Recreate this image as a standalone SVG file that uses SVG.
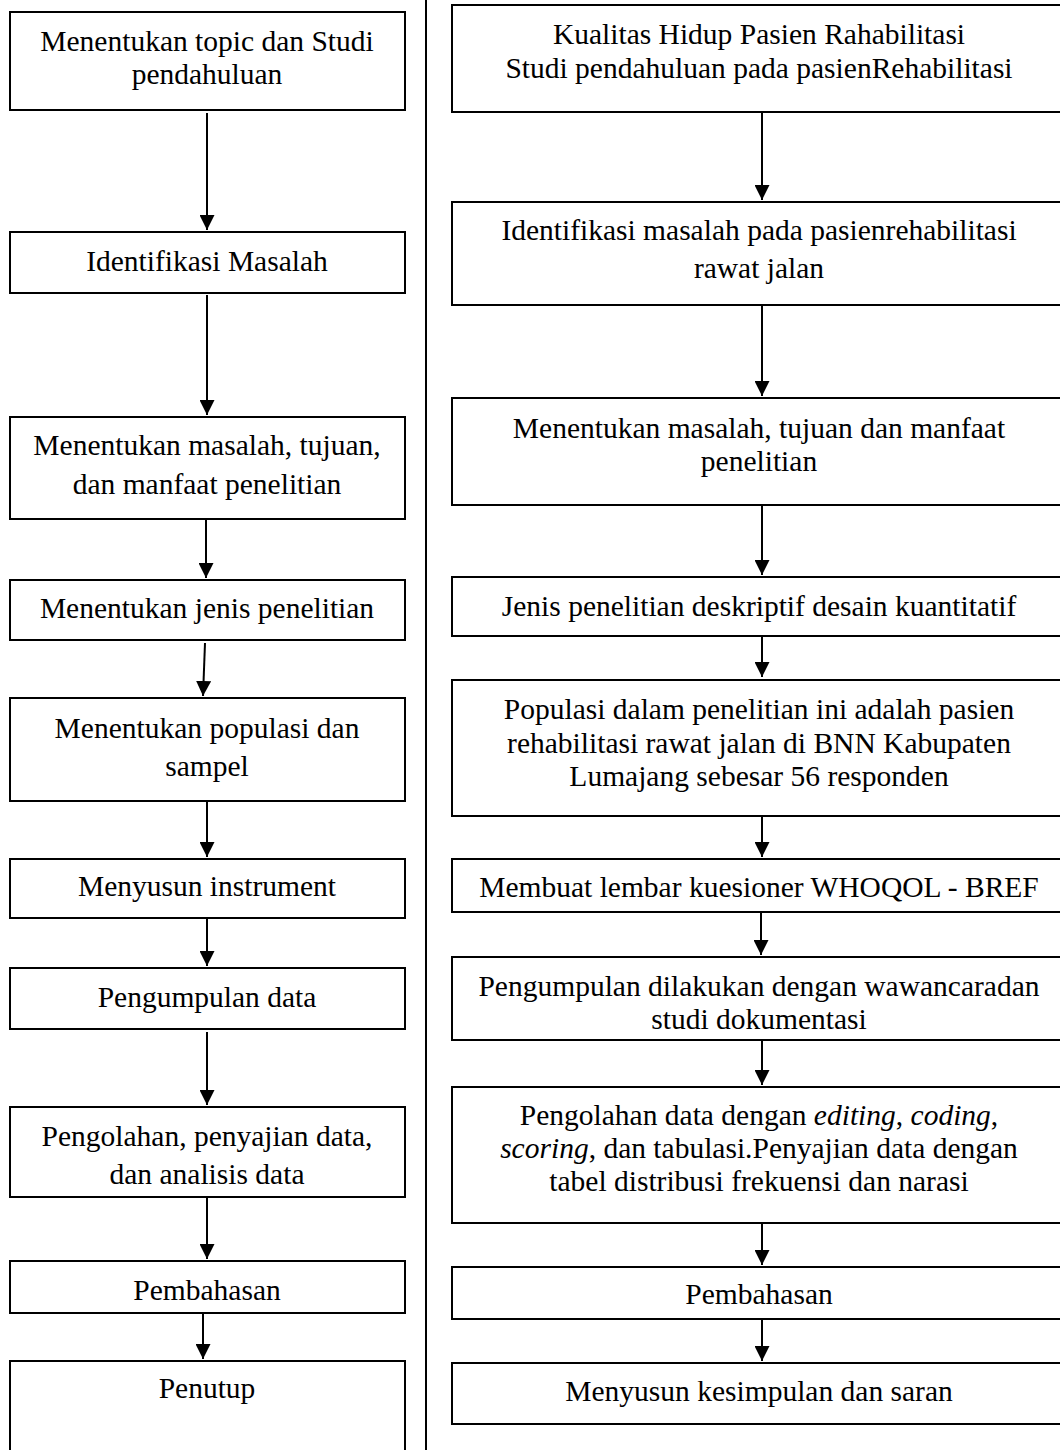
<svg xmlns="http://www.w3.org/2000/svg" width="1060" height="1450" viewBox="0 0 1060 1450">
<defs>
<marker id="ah" markerUnits="userSpaceOnUse" markerWidth="15" markerHeight="15" refX="15" refY="7.5" orient="auto">
<path d="M0,0 L15,7.5 L0,15 z" fill="#000"/>
</marker>
<style>
.box{fill:#fff;stroke:#000;stroke-width:2}
.t{font-family:"Liberation Serif","Times New Roman",serif;fill:#000;text-anchor:middle}
.l{font-size:29.5px}
.r{font-size:29.5px}
.c{stroke:#000;stroke-width:2;fill:none;marker-end:url(#ah)}
</style>
</defs>
<rect width="1060" height="1450" fill="#fff"/>
<line x1="426" y1="0" x2="426" y2="1450" stroke="#000" stroke-width="2"/>

<g id="L1"><rect class="box" x="10" y="12" width="395" height="98"/><text class="t l" x="207" y="51">Menentukan topic dan Studi</text><text class="t l" x="207" y="84">pendahuluan</text></g>
<g id="L2"><rect class="box" x="10" y="232" width="395" height="61"/><text class="t l" x="207" y="271">Identifikasi Masalah</text></g>
<g id="L3"><rect class="box" x="10" y="417" width="395" height="102"/><text class="t l" x="207" y="455">Menentukan masalah, tujuan,</text><text class="t l" x="207" y="494">dan manfaat penelitian</text></g>
<g id="L4"><rect class="box" x="10" y="580" width="395" height="60"/><text class="t l" x="207" y="618">Menentukan jenis penelitian</text></g>
<g id="L5"><rect class="box" x="10" y="698" width="395" height="103"/><text class="t l" x="207" y="738">Menentukan populasi dan</text><text class="t l" x="207" y="776">sampel</text></g>
<g id="L6"><rect class="box" x="10" y="859" width="395" height="59"/><text class="t l" x="207" y="896">Menyusun instrument</text></g>
<g id="L7"><rect class="box" x="10" y="968" width="395" height="61"/><text class="t l" x="207" y="1007">Pengumpulan data</text></g>
<g id="L8"><rect class="box" x="10" y="1107" width="395" height="90"/><text class="t l" x="207" y="1146">Pengolahan, penyajian data,</text><text class="t l" x="207" y="1184">dan analisis data</text></g>
<g id="L9"><rect class="box" x="10" y="1261" width="395" height="52"/><text class="t l" x="207" y="1300">Pembahasan</text></g>
<g id="L10"><rect class="box" x="10" y="1361" width="395" height="100"/><text class="t l" x="207" y="1398">Penutup</text></g>

<g id="R1"><rect class="box" x="452" y="5" width="620" height="107"/><text class="t r" x="759" y="44">Kualitas Hidup Pasien Rahabilitasi</text><text class="t r" x="759" y="78">Studi pendahuluan pada pasienRehabilitasi</text></g>
<g id="R2"><rect class="box" x="452" y="202" width="620" height="103"/><text class="t r" x="759" y="240">Identifikasi masalah pada pasienrehabilitasi</text><text class="t r" x="759" y="278">rawat jalan</text></g>
<g id="R3"><rect class="box" x="452" y="398" width="620" height="107"/><text class="t r" x="759" y="438">Menentukan masalah, tujuan dan manfaat</text><text class="t r" x="759" y="471">penelitian</text></g>
<g id="R4"><rect class="box" x="452" y="577" width="620" height="59"/><text class="t r" x="759" y="616">Jenis penelitian deskriptif desain kuantitatif</text></g>
<g id="R5"><rect class="box" x="452" y="680" width="620" height="136"/><text class="t r" x="759" y="719">Populasi dalam penelitian ini adalah pasien</text><text class="t r" x="759" y="753">rehabilitasi rawat jalan di BNN Kabupaten</text><text class="t r" x="759" y="786">Lumajang sebesar 56 responden</text></g>
<g id="R6"><rect class="box" x="452" y="859" width="620" height="53"/><text class="t r" x="759" y="897">Membuat lembar kuesioner WHOQOL - BREF</text></g>
<g id="R7"><rect class="box" x="452" y="957" width="620" height="83"/><text class="t r" x="759" y="996">Pengumpulan dilakukan dengan wawancaradan</text><text class="t r" x="759" y="1029">studi dokumentasi</text></g>
<g id="R8"><rect class="box" x="452" y="1087" width="620" height="136"/><text class="t r" x="759" y="1125">Pengolahan data dengan <tspan font-style="italic">editing</tspan>, <tspan font-style="italic">coding</tspan>,</text><text class="t r" x="759" y="1158"><tspan font-style="italic">scoring</tspan>, dan tabulasi.Penyajian data dengan</text><text class="t r" x="759" y="1191">tabel distribusi frekuensi dan narasi</text></g>
<g id="R9"><rect class="box" x="452" y="1267" width="620" height="52"/><text class="t r" x="759" y="1304">Pembahasan</text></g>
<g id="R10"><rect class="box" x="452" y="1363" width="620" height="61"/><text class="t r" x="759" y="1401">Menyusun kesimpulan dan saran</text></g>

<g id="connectors">
<line class="c" x1="207" y1="113" x2="207" y2="230"/>
<line class="c" x1="207" y1="295" x2="207" y2="415"/>
<line class="c" x1="206" y1="519" x2="206" y2="578"/>
<line class="c" x1="205" y1="643" x2="203" y2="696"/>
<line class="c" x1="207" y1="801" x2="207" y2="857"/>
<line class="c" x1="207" y1="918" x2="207" y2="966"/>
<line class="c" x1="207" y1="1032" x2="207" y2="1105"/>
<line class="c" x1="207" y1="1197" x2="207" y2="1259"/>
<line class="c" x1="203" y1="1313" x2="203" y2="1359"/>
<line class="c" x1="762" y1="112" x2="762" y2="200"/>
<line class="c" x1="762" y1="305" x2="762" y2="396"/>
<line class="c" x1="762" y1="505" x2="762" y2="575"/>
<line class="c" x1="762" y1="636" x2="762" y2="677"/>
<line class="c" x1="762" y1="816" x2="762" y2="857"/>
<line class="c" x1="761" y1="912" x2="761" y2="955"/>
<line class="c" x1="762" y1="1040" x2="762" y2="1085"/>
<line class="c" x1="762" y1="1223" x2="762" y2="1265"/>
<line class="c" x1="762" y1="1319" x2="762" y2="1361"/>
</g>
</svg>
